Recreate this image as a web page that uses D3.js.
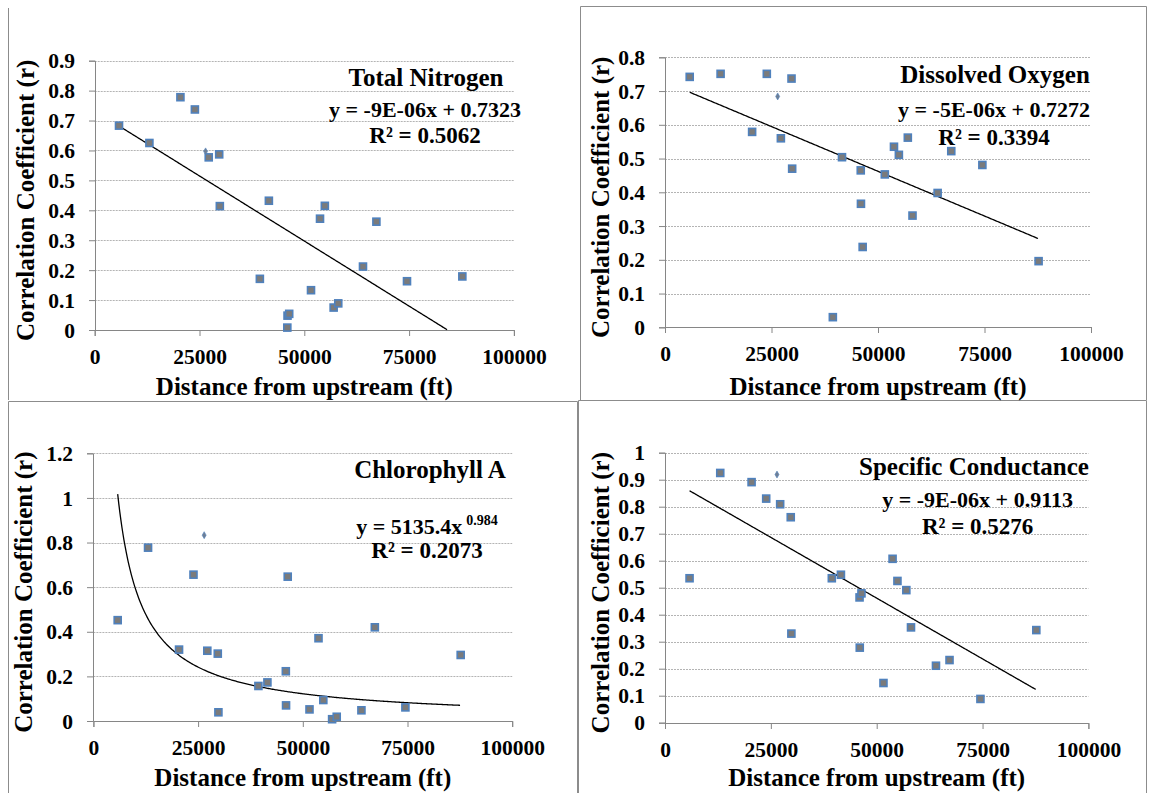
<!DOCTYPE html>
<html>
<head>
<meta charset="utf-8">
<script src="https://cdn.jsdelivr.net/npm/d3@7/dist/d3.min.js"></script>
<style>
  body { margin: 0; background: #fff; }
  svg text { font-family: "Liberation Serif", "Times New Roman", Times, serif; font-weight: bold; fill: #000; }
</style>
</head>
<body>
<script>
// distance of each sampling site from upstream (ft), shared by all four panels
var distance = [5800, 13050, 20450, 23900, 26450, 27200, 29700, 29850, 39400, 41550, 45950,
                46000, 46400, 51600, 53750, 54900, 57000, 58100, 64000, 67200, 74500, 87700];
// site 4 is drawn with the small diamond marker
var smallSite = 4;

// correlation coefficient (r) per site
var nitrogenR    = [0.683, 0.625, 0.778, 0.737, 0.597, 0.577, 0.587, 0.414, 0.171, 0.432, 0.008,
                    0.048, 0.054, 0.133, 0.372, 0.415, 0.075, 0.089, 0.212, 0.362, 0.163, 0.179];
var oxygenR      = [0.742, 0.751, 0.579, 0.751, 0.684, 0.560, 0.737, 0.470, 0.030, 0.504, 0.465,
                    0.366, 0.238, 0.453, 0.535, 0.511, 0.562, 0.331, 0.398, 0.522, 0.481, 0.196];
var chlorophyllR = [0.452, 0.777, 0.320, 0.656, 0.833, 0.315, 0.302, 0.039, 0.157, 0.173, 0.223,
                    0.070, 0.647, 0.052, 0.371, 0.094, 0.008, 0.019, 0.048, 0.420, 0.061, 0.296];
var conductanceR = [0.535, 0.925, 0.891, 0.830, 0.919, 0.809, 0.761, 0.330, 0.535, 0.548, 0.464,
                    0.278, 0.479, 0.147, 0.607, 0.525, 0.491, 0.353, 0.211, 0.232, 0.088, 0.343];

var xTicks = [0, 25000, 50000, 75000, 100000];
var nitrogenTicks    = [0, 0.1, 0.2, 0.3, 0.4, 0.5, 0.6, 0.7, 0.8, 0.9];
var oxygenTicks      = [0, 0.1, 0.2, 0.3, 0.4, 0.5, 0.6, 0.7, 0.8];
var chlorophyllTicks = [0, 0.2, 0.4, 0.6, 0.8, 1, 1.2];
var conductanceTicks = [0, 0.1, 0.2, 0.3, 0.4, 0.5, 0.6, 0.7, 0.8, 0.9, 1];

var titles = ["Total Nitrogen", "Dissolved Oxygen", "Chlorophyll A", "Specific Conductance"];
var equations = ["y = -9E-06x + 0.7323", "y = -5E-06x + 0.7272", "y = 5135.4x", "y = -9E-06x + 0.9113"];
var rSquared = ["R\u00B2 = 0.5062", "R\u00B2 = 0.3394", "R\u00B2 = 0.2073", "R\u00B2 = 0.5276"];
// trend lines: linear a + b*x, or power a*x^b
var trendType = ["linear", "linear", "power", "linear"];
var trendA = [0.7323, 0.7272, 5135.4, 0.9113];
var trendB = [-8.7e-6, -5.3e-6, -0.984, -9.0e-6];

var svg = d3.select("body").append("svg")
  .attr("width", 1149)
  .attr("height", 793);

// panel frames
var frames = [
  [[8.5, 8], [8.5, 400]],
  [[580.5, 400], [580.5, 6.5], [1146.5, 6.5], [1146.5, 400]],
  [[8.5, 793], [8.5, 401.5], [577.5, 401.5], [577.5, 793]],
  [[578.5, 793], [578.5, 400.5], [1146.5, 400.5], [1146.5, 793]]
];
frames.forEach(function(f) {
  svg.append("path")
    .attr("d", d3.line()(f))
    .attr("fill", "none")
    .attr("stroke", "#8c8c8c")
    .attr("stroke-width", 1);
});

// plot-area layout for each panel
var panels = [
  { values: nitrogenR,    ticks: nitrogenTicks,    left: 94.7,  right: 513.9,  top: 60.7,  bottom: 330,
    titleX: 426, titleY: 86,  eqX: 425,   eqY: 117, r2Y: 143, yTitleX: 34,  xTitleY: 395 },
  { values: oxygenR,      ticks: oxygenTicks,      left: 665,   right: 1091,   top: 57.3,  bottom: 327.3,
    titleX: 995, titleY: 83,  eqX: 994,   eqY: 117, r2Y: 145, yTitleX: 609, xTitleY: 395 },
  { values: chlorophyllR, ticks: chlorophyllTicks, left: 93.4,  right: 512.2,  top: 453.3, bottom: 721,
    titleX: 430, titleY: 478, eqX: 427,   eqY: 534, r2Y: 558, yTitleX: 32,  xTitleY: 786 },
  { values: conductanceR, ticks: conductanceTicks, left: 665,   right: 1088.4, top: 452.7, bottom: 722.7,
    titleX: 974, titleY: 475, eqX: 977.6, eqY: 507, r2Y: 534, yTitleX: 609, xTitleY: 786 }
];

panels.forEach(function(p, i) {
  var x = d3.scaleLinear().domain([0, 100000]).range([p.left, p.right]);
  var y = d3.scaleLinear().domain([0, d3.max(p.ticks)]).range([p.bottom, p.top]);
  var g = svg.append("g");

  // dotted gridlines
  g.selectAll(".grid")
    .data(p.ticks.filter(function(t) { return t > 0; }))
    .enter().append("line")
    .attr("x1", p.left).attr("x2", p.right)
    .attr("y1", function(d) { return Math.round(y(d)) + 0.5; })
    .attr("y2", function(d) { return Math.round(y(d)) + 0.5; })
    .attr("stroke", "#b4b4b4")
    .attr("stroke-dasharray", "2,1");

  var xAxis = d3.axisBottom(x).tickValues(xTicks).tickSize(6).tickPadding(13)
    .tickFormat(function(d) { return String(d); });
  var yAxis = d3.axisLeft(y).tickValues(p.ticks).tickSize(6).tickPadding(14)
    .tickFormat(function(d) { return String(Math.round(d * 10) / 10); });

  var gx = g.append("g")
    .attr("transform", "translate(0," + Math.round(p.bottom) + ")")
    .call(xAxis);
  var gy = g.append("g")
    .attr("transform", "translate(" + Math.round(p.left) + ",0)")
    .call(yAxis);
  [gx, gy].forEach(function(a) {
    a.attr("font-family", null).attr("font-size", null);
    a.select(".domain").attr("stroke", "#868686");
    a.selectAll(".tick line").attr("stroke", "#868686");
    a.selectAll(".tick text")
      .attr("font-size", 21.5)
      .attr("fill", "#000");
  });
  gy.selectAll(".tick text").attr("dy", "0.33em");

  // axis titles
  g.append("text")
    .attr("x", (p.left + p.right) / 2)
    .attr("y", p.xTitleY)
    .attr("text-anchor", "middle")
    .attr("font-size", 25)
    .text("Distance from upstream (ft)");
  g.append("text")
    .attr("transform", "translate(" + p.yTitleX + "," + ((p.top + p.bottom) / 2 + 5) + ") rotate(-90)")
    .attr("text-anchor", "middle")
    .attr("font-size", 25)
    .text("Correlation Coefficient (r)");

  // trend line over the data range, clipped at r = 0
  var xs = d3.range(d3.min(distance), d3.max(distance) + 1, 250);
  var trend = xs.map(function(d) {
    var v = trendType[i] === "linear" ? trendA[i] + trendB[i] * d : trendA[i] * Math.pow(d, trendB[i]);
    return [d, v];
  }).filter(function(d) { return d[1] >= 0; });
  g.append("path")
    .datum(trend)
    .attr("fill", "none")
    .attr("stroke", "#000")
    .attr("stroke-width", 1.3)
    .attr("d", d3.line().x(function(d) { return x(d[0]); }).y(function(d) { return y(d[1]); }));

  // markers
  var pts = distance.map(function(d, k) { return { x: d, r: p.values[k], small: k === smallSite }; });
  g.selectAll(".pt")
    .data(pts.filter(function(d) { return !d.small; }))
    .enter().append("rect")
    .attr("x", function(d) { return x(d.x) - 3.5; })
    .attr("y", function(d) { return y(d.r) - 3.5; })
    .attr("width", 7).attr("height", 7)
    .attr("fill", "#7b7b7b")
    .attr("stroke", "#4f81bd")
    .attr("stroke-width", 1.6);
  g.selectAll(".sm")
    .data(pts.filter(function(d) { return d.small; }))
    .enter().append("path")
    .attr("transform", function(d) { return "translate(" + x(d.x) + "," + y(d.r) + ")"; })
    .attr("d", d3.symbol().type(d3.symbolDiamond).size(14))
    .attr("fill", "#6f7f95")
    .attr("stroke", "#4f81bd")
    .attr("stroke-width", 0.6);

  // panel title and trend equation
  g.append("text")
    .attr("x", p.titleX).attr("y", p.titleY)
    .attr("text-anchor", "middle")
    .attr("font-size", 25)
    .text(titles[i]);
  var eq = g.append("text")
    .attr("x", p.eqX).attr("y", p.eqY)
    .attr("text-anchor", "middle")
    .attr("font-size", 22)
    .text(equations[i]);
  if (trendType[i] === "power") {
    eq.append("tspan")
      .attr("font-size", 14)
      .attr("dy", -9)
      .attr("dx", 4)
      .text(String(-trendB[i]));
  }
  g.append("text")
    .attr("x", p.eqX).attr("y", p.r2Y)
    .attr("text-anchor", "middle")
    .attr("font-size", 23)
    .text(rSquared[i]);
});
</script>
</body>
</html>
